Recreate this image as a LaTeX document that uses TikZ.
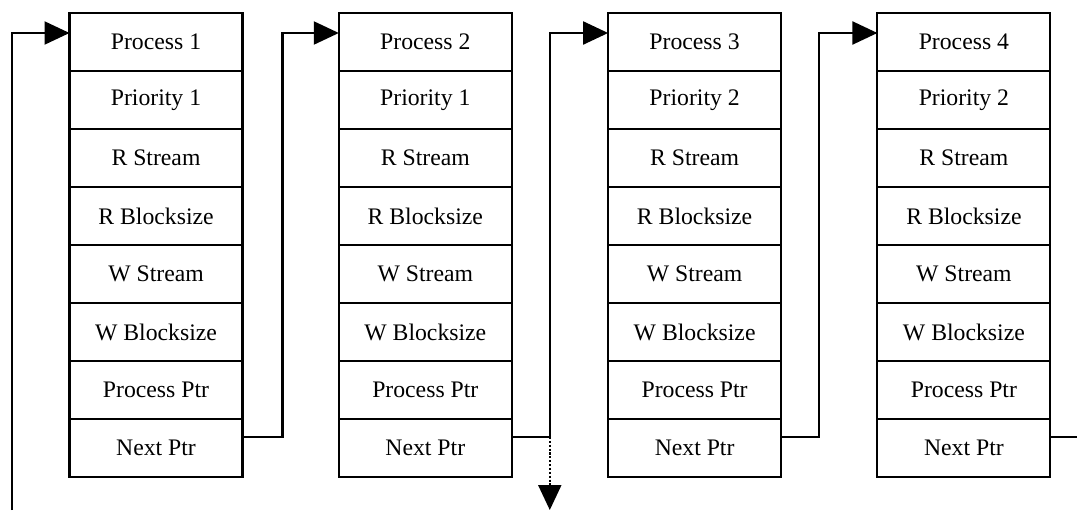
\documentclass[tikz,border=0pt]{standalone}
\usepackage{fontspec}
\setmainfont{Liberation Serif}
\usetikzlibrary{arrows.meta, positioning}

\begin{document}
\begin{tikzpicture}[x=0.02cm, y=-0.02cm,
    cell/.style={draw, line width=1.2pt, minimum width=3.46cm, minimum height=1.16cm,
      inner sep=0pt, outer sep=0pt, font=\fontsize{13.5}{15}\selectfont},
    wire/.style={line width=1.2pt},
    link/.style={wire, -{Triangle[length=0.5cm, width=0.46cm]}}]
  \useasboundingbox (0,0) rectangle (1077,510);
  % the four process records
  \foreach \n/\p in {1/1, 2/1, 3/2, 4/2} {
    \foreach \t [count=\r] in {Process \n, Priority \p, R Stream, R Blocksize,
        W Stream, W Blocksize, Process Ptr, Next Ptr}
      \node[cell] (b\n-\r) at ({156+(\n-1)*269.3}, {42+(\r-1)*58}) {\t};
  }
  % next pointers
  \coordinate (loop) at (12,510);
  \draw[link] (loop) |- ([yshift=0.18cm]b1-1.west);
  \draw[link] ([yshift=0.22cm]b1-8.east) -- ++(40,0) |- ([yshift=0.18cm]b2-1.west);
  \draw[wire] ([yshift=0.22cm]b2-8.east) -- ++(38,0) coordinate (drop);
  \draw[link] (drop) |- ([yshift=0.18cm]b3-1.west);
  \coordinate (down) at (drop |- 0,510);
  \draw[link, densely dotted] (drop) -- (down);
  \draw[link] ([yshift=0.22cm]b3-8.east) -- ++(38,0) |- ([yshift=0.18cm]b4-1.west);
  \draw[wire] ([yshift=0.22cm]b4-8.east) -- ++(27,0) coordinate (tail);
\end{tikzpicture}
\end{document}
